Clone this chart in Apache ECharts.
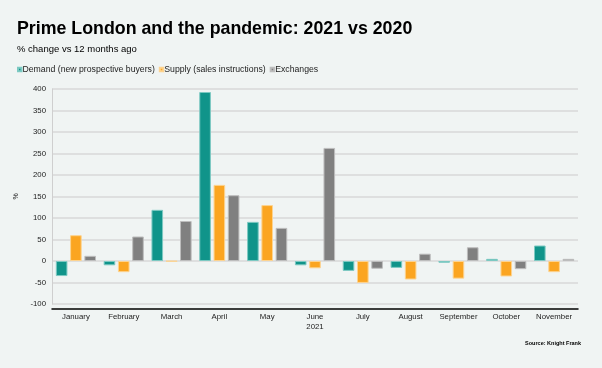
<!DOCTYPE html>
<html><head><meta charset="utf-8">
<script src="https://cdn.jsdelivr.net/npm/echarts@6/dist/echarts.min.js"></script>
<style>html,body{margin:0;padding:0;background:#F0F4F3;}#c{width:602px;height:368px;}</style>
</head><body><div id="c"></div>
<script>
const months = ['January','February','March','April','May','June\n2021','July','August','September','October','November'];
const demand = [-35, -10, 119, 393, 91, -10, -23, -16, -4, 5, 36];
const supply = [60, -26, -1, 177, 130, -17, -51, -43, -41, -36, -26];
const exchanges = [12, 57, 93, 153, 77, 263, -18, 17, 32, -19, 5];
const seriesNames = ['Demand (new prospective buyers)', 'Supply (sales instructions)', 'Exchanges'];
const colors = ['#10948A', '#FBA521', '#808080'];
const borders = ['#7CC9C2', '#FDD38F', '#BDBDBD'];
const yTicks = { min: -100, max: 400, interval: 50 };

const font = 'Liberation Sans, Arial, sans-serif';
const chart = echarts.init(document.getElementById('c'), null, {renderer: 'canvas'});
const data = [demand, supply, exchanges];
chart.setOption({
  backgroundColor: '#F0F4F3',
  animation: false,
  title: [
    {text: 'Prime London and the pandemic: 2021 vs 2020', left: 12, top: 15, padding: 5,
     textStyle: {fontFamily: font, fontSize: 17.8, fontWeight: 'bold', color: '#000'}},
    {text: '% change vs 12 months ago', left: 12, top: 39,
     textStyle: {fontFamily: font, fontSize: 9.5, fontWeight: 'normal', color: '#000'}},
    {text: 'Source: Knight Frank', right: 16, top: 335,
     textStyle: {fontFamily: font, fontSize: 5.5, fontWeight: 'bold', color: '#000'}}
  ],
  legend: {
    left: 12, top: 60, itemWidth: 3.5, itemHeight: 3.5, itemGap: 4, icon: 'rect',
    textStyle: {fontFamily: font, fontSize: 8.7, color: '#222', padding: [0,0,0,-4]},
    data: seriesNames
  },
  grid: {left: 52, right: 24, top: 89, bottom: 64, containLabel: false},
  xAxis: {
    type: 'category', data: months, offset: 5,
    axisLine: {onZero: false, lineStyle: {color: '#000', width: 1.5}},
    axisTick: {show: false},
    axisLabel: {fontFamily: font, fontSize: 7.8, color: '#222', margin: 3, lineHeight: 10, interval: 0}
  },
  yAxis: {
    type: 'value', min: yTicks.min, max: yTicks.max, interval: yTicks.interval,
    name: '%', nameLocation: 'middle', nameGap: 30,
    nameTextStyle: {fontFamily: font, fontSize: 7, color: '#222'},
    axisLine: {show: true, lineStyle: {color: '#cfcfcf', width: 1}},
    axisTick: {show: false},
    axisLabel: {fontFamily: font, fontSize: 7.8, color: '#222', margin: 6},
    splitLine: {lineStyle: {color: '#D9D9D9', width: 1.5}}
  },
  series: seriesNames.map((n, i) => ({
    name: n, type: 'bar', data: data[i],
    barGap: '23%', barCategoryGap: '16%',
    itemStyle: {color: colors[i], borderColor: borders[i], borderWidth: 1}
  }))
});
</script></body></html>
